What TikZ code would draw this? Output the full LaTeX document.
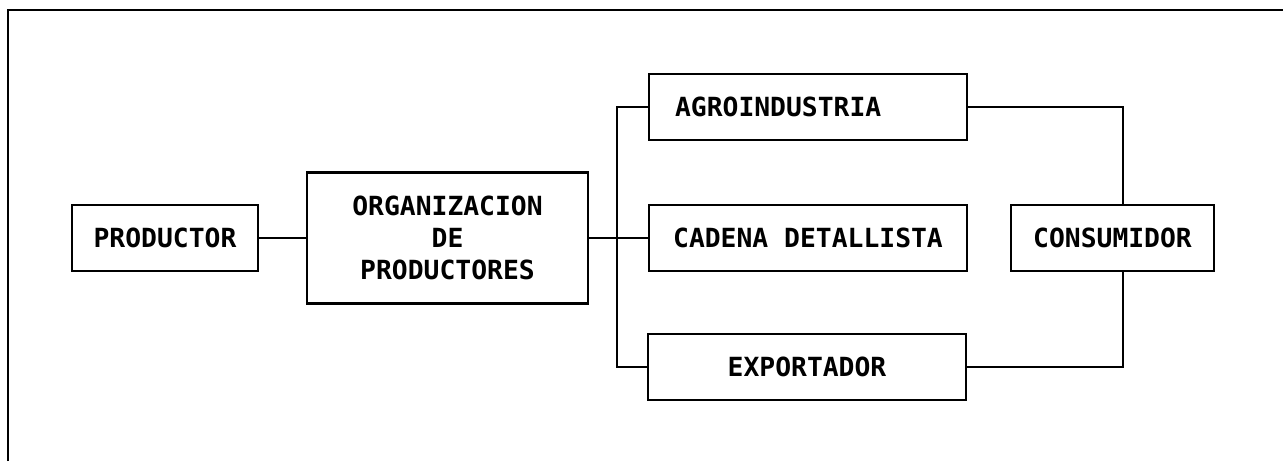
\documentclass[tikz,border=0pt]{standalone}
\usepackage{fontspec}
\setmonofont{DejaVu Sans Mono}
\begin{document}
\begin{tikzpicture}[x=0.02cm,y=-0.02cm,line width=1.3pt,
  caja/.style={draw,font=\ttfamily\bfseries\fontsize{15}{18}\selectfont,
    inner sep=0pt,minimum height=1.32cm,align=center}]
\useasboundingbox (0,0) rectangle (1283,461);
\draw (8,461)--(8,10)--(1283,10);

\node[caja,minimum width=3.72cm] (prod) at (165,238) {PRODUCTOR};
\node[caja,minimum width=5.62cm,minimum height=2.62cm] (org) at (447.5,238) {ORGANIZACION\\DE\\PRODUCTORES};
\node[caja,text width=5.32cm,inner xsep=0.52cm,align=left] (agro) at (808,107) {AGROINDUSTRIA};
\node[caja,minimum width=6.36cm] (cad) at (808,238) {CADENA DETALLISTA};
\node[caja,minimum width=6.36cm] (exp) at (807,367) {EXPORTADOR};
\node[caja,minimum width=4.06cm] (cons) at (1112.5,238) {CONSUMIDOR};

\draw (prod)--(org);
\draw (org)--(cad);
\draw (agro.west)--++(-31,0)|-(exp.west);
\draw (agro.east)-|([xshift=0.21cm]cons.north);
\draw (exp.east)-|([xshift=0.21cm]cons.south);
\end{tikzpicture}
\end{document}
